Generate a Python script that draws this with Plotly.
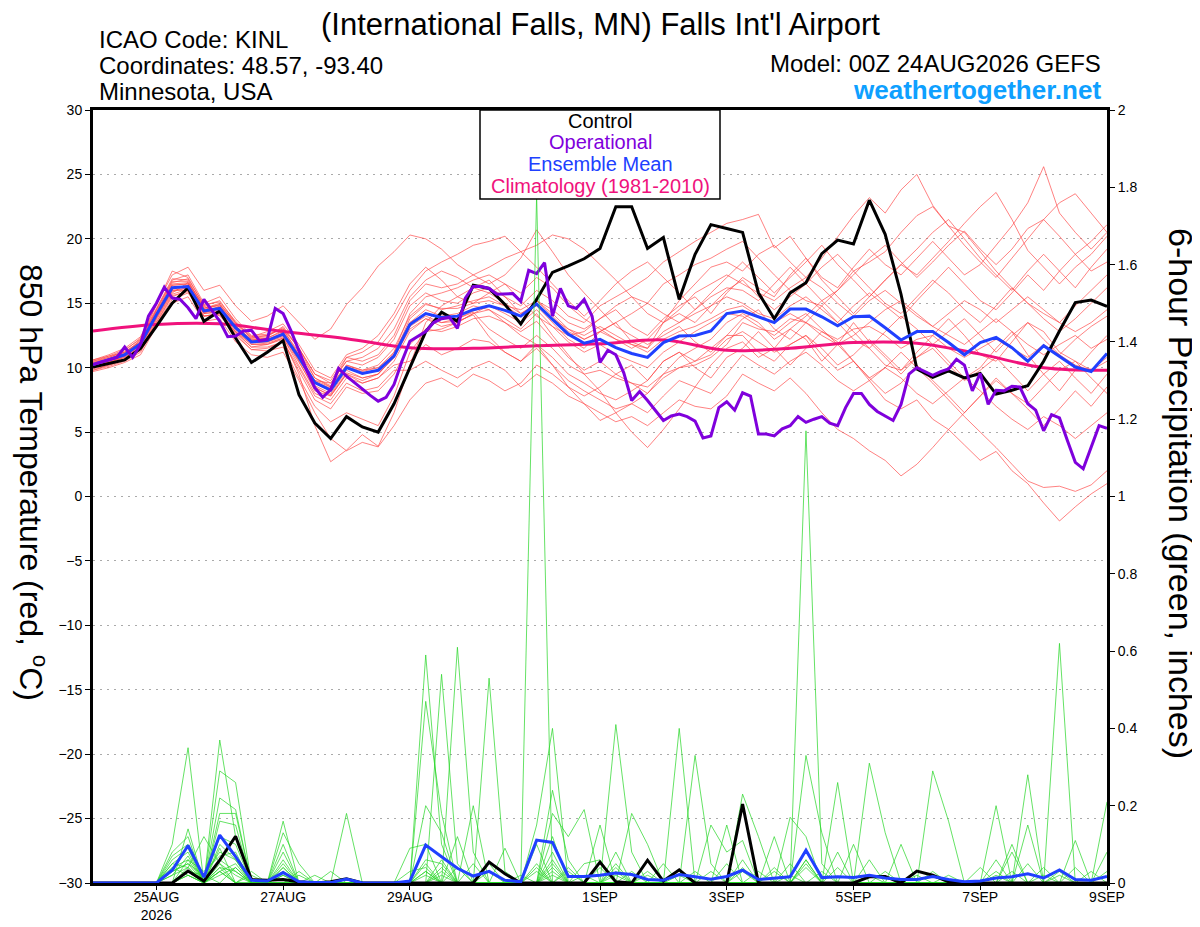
import plotly.graph_objects as go
import pandas as pd

FONT = "Liberation Sans, Arial, Helvetica, sans-serif"

# ---------------- time axes ----------------
start = pd.Timestamp("2026-08-24 00:00")
times6 = pd.date_range(start, periods=65, freq="6h")
times3 = pd.date_range(start, periods=129, freq="3h")
days = pd.date_range(start, periods=17, freq="D")

tick_dates = ["2026-08-25", "2026-08-27", "2026-08-29", "2026-09-01",
              "2026-09-03", "2026-09-05", "2026-09-07", "2026-09-09"]
tick_labels = ["25AUG<br>2026", "27AUG", "29AUG", "1SEP", "3SEP", "5SEP", "7SEP", "9SEP"]

# ---------------- main lines (850 hPa temperature, C) ----------------
control_temp = [10.05, 10.3, 10.6, 11.5, 13.2, 15.0, 16.2, 13.6, 14.4, 12.3, 10.4, 11.2, 12.1,
                7.9, 5.7, 4.5, 6.2, 5.4, 5.0, 7.2, 10.0, 12.8, 14.3, 13.6, 16.4,
                16.15, 14.9, 13.4, 15.3, 17.4, 17.9, 18.45, 19.25, 22.5, 22.5, 19.25, 20.1, 15.3, 18.8, 21.1, 20.8,
                20.5, 15.8, 13.8, 15.8, 16.6, 18.85, 19.9, 19.6, 23.0, 20.35, 15.7, 9.9, 9.25, 9.75, 9.2, 9.55,
                7.95, 8.25, 8.6, 10.5, 12.85, 15.05, 15.25, 14.75]

mean_temp = [10.25, 10.6, 11.0, 11.85, 14.1, 16.2, 16.3, 14.4, 14.6, 13.1, 12.0, 12.1, 12.6,
             10.8, 8.85, 8.25, 10.0, 9.55, 9.8, 10.9, 13.35, 14.2, 13.9, 14.0, 14.5,
             14.8, 14.45, 14.0, 14.95, 13.75, 12.6, 11.9, 12.2, 11.55, 11.1, 10.8, 11.95, 12.45, 12.5, 12.85, 14.2,
             14.4, 13.95, 13.5, 14.55, 14.55, 13.95, 13.25, 13.95, 14.0, 13.1, 12.15, 12.8, 12.8, 11.95, 11.0, 11.95,
             12.35, 11.55, 10.5, 11.7, 10.9, 10.05, 9.7, 11.1]

# operational run (3-hourly)
oper_temp = [10.25, 10.45, 10.65, 10.8, 11.6, 10.8, 11.8, 14.0, 15.0, 16.25, 15.4, 15.3, 14.65, 13.8, 15.3, 14.4,
             13.6, 12.4, 12.45, 12.85, 12.9, 12.1, 12.2, 14.6, 14.2, 12.85, 11.3, 9.75, 8.45, 7.7, 8.3, 9.95,
             9.35, 8.85, 8.3, 7.85, 7.4, 7.7, 8.7, 10.5, 12.05, 12.45, 12.8, 13.5, 13.8, 13.9, 13.05, 15.4,
             16.3, 16.3, 16.15, 15.7, 15.7, 15.75, 15.15, 17.55, 17.3, 18.15, 14.0, 16.15, 14.8, 14.6, 15.3, 14.0,
             10.4, 11.35, 11.0, 9.6, 7.45, 8.15, 7.45, 6.7, 5.9, 6.25, 6.4, 6.2, 5.85, 4.55, 4.7, 6.9,
             7.35, 6.7, 8.05, 7.8, 4.85, 4.85, 4.7, 5.25, 5.5, 6.2, 5.75, 6.0, 6.2, 5.7, 5.5, 6.9,
             8.0, 8.0, 7.15, 6.6, 6.25, 5.9, 7.15, 9.5, 10.0, 9.7, 9.4, 9.7, 9.9, 10.65, 10.2, 8.2,
             9.55, 7.15, 8.25, 8.2, 8.55, 8.5, 7.2, 6.7, 5.1, 6.35, 6.1, 4.35, 2.65, 2.15, 3.75, 5.5,
             5.3]

# climatology (1981-2010), daily values
clim_temp = [12.85, 13.35, 13.4, 12.8, 12.25, 11.55, 11.5, 11.7, 11.85, 12.15, 11.35, 11.5, 11.95, 11.9,
             11.05, 10.0, 9.8]

# ---------------- ensemble members temperature ----------------
t01 = [10.5, 10.9, 11.2, 12.0, 14.5, 16.8, 17.2, 15.0, 15.5, 13.8, 12.5, 12.6, 13.0,
       11.5, 9.5, 8.8, 10.5, 10.8, 11.5, 13.0, 15.5, 16.8, 17.5, 17.0, 16.2,
       15.8, 15.0, 14.2, 14.8, 13.5, 12.2, 11.5, 12.8, 13.5, 14.2, 15.0, 16.5, 17.2, 18.0, 18.5, 19.2,
       19.8, 18.5, 17.2, 16.0, 15.2, 14.8, 16.0, 17.5, 18.2, 19.0, 20.5, 21.8, 22.5, 21.0, 19.5, 18.2,
       17.0, 18.5, 20.0, 21.5, 22.8, 23.5, 22.0, 20.5]
t02 = [9.8, 10.2, 10.6, 11.5, 13.6, 15.6, 15.9, 14.0, 14.2, 12.6, 11.4, 11.5, 12.0,
       9.8, 7.5, 6.8, 8.5, 8.0, 8.2, 9.5, 11.8, 13.0, 12.8, 13.2, 13.8,
       14.0, 13.5, 12.8, 13.6, 12.2, 10.8, 9.8, 10.5, 9.5, 8.8, 8.0, 9.2, 10.0, 10.5, 11.0, 12.2,
       12.8, 12.0, 11.2, 11.8, 12.5, 11.0, 9.8, 10.5, 9.0, 7.5, 6.8, 7.5, 6.0, 5.2, 4.0, 2.8,
       3.5, 2.0, 1.0, -0.5, -1.9, -0.8, 0.2, 1.0]
t03 = [10.0, 10.5, 11.0, 12.2, 14.8, 17.5, 17.0, 14.8, 15.2, 13.5, 12.4, 12.8, 13.4,
       11.8, 9.8, 9.2, 11.0, 11.5, 12.5, 14.2, 16.5, 17.8, 16.8, 15.5, 15.0,
       15.8, 16.5, 15.2, 14.0, 13.2, 12.5, 12.8, 13.8, 14.5, 13.2, 12.5, 13.8, 14.8, 15.5, 14.2, 15.8,
       17.0, 16.2, 15.5, 17.2, 18.5, 17.0, 16.2, 17.8, 19.2, 18.0, 17.2, 18.5, 19.8, 18.5, 17.2, 18.0,
       19.5, 21.0, 22.8, 25.6, 22.0, 20.5, 19.2, 20.5]
t04 = [10.2, 10.4, 10.8, 11.6, 13.8, 15.8, 16.6, 14.8, 14.0, 12.8, 11.6, 11.8, 12.2,
       9.5, 5.5, 2.7, 3.6, 4.8, 3.9, 6.5, 10.2, 13.5, 14.8, 15.5, 16.2,
       16.8, 15.5, 14.2, 15.0, 13.8, 13.0, 12.2, 12.8, 13.5, 12.0, 11.5, 13.5, 15.2, 16.5, 17.8, 18.2,
       17.5, 18.8, 19.5, 18.2, 17.0, 18.5, 20.2, 21.8, 23.2, 22.0, 23.8, 25.0, 22.6, 21.0, 20.5, 19.0,
       17.5, 16.2, 15.0, 14.2, 13.5, 14.8, 16.0, 17.2]
t05 = [10.6, 11.0, 11.5, 12.4, 14.9, 17.2, 17.8, 16.0, 16.4, 14.8, 13.6, 14.0, 14.8,
       13.5, 12.2, 13.0, 14.9, 16.2, 17.9, 19.0, 20.3, 20.0, 19.2, 18.0, 17.2,
       16.5, 17.2, 18.5, 20.7, 19.0, 17.2, 15.8, 14.5, 13.2, 12.5, 11.8, 12.5, 13.2, 12.0, 11.2, 12.5,
       13.8, 14.5, 13.0, 12.2, 13.5, 14.8, 13.5, 12.2, 11.5, 10.2, 9.8, 11.2, 12.5, 13.8, 12.5, 11.0,
       10.5, 12.0, 13.5, 12.8, 11.2, 10.5, 9.8, 10.8]
t06 = [10.0, 10.3, 10.7, 11.3, 13.5, 15.5, 16.0, 14.2, 14.8, 13.2, 12.2, 12.2, 12.5,
       10.5, 8.2, 7.8, 9.5, 8.8, 9.2, 10.5, 12.8, 13.8, 13.2, 13.5, 14.2,
       14.5, 13.8, 13.0, 14.2, 12.5, 11.0, 9.5, 8.2, 6.5, 5.0, 3.8, 5.2, 6.8, 8.5, 10.2, 11.5,
       12.0, 10.8, 11.5, 13.0, 12.2, 10.5, 11.8, 13.5, 12.0, 10.8, 9.5, 10.8, 11.8, 10.5, 9.2, 10.0,
       11.5, 12.8, 11.0, 9.5, 8.2, 9.8, 11.2, 12.5]
t07 = [9.7, 10.0, 10.4, 11.0, 13.2, 15.0, 15.5, 13.6, 13.8, 12.0, 11.0, 10.8, 11.2,
       9.0, 6.5, 4.5, 3.55, 4.2, 3.85, 5.5, 7.5, 8.8, 9.2, 8.5, 9.5,
       9.0, 8.2, 8.8, 10.2, 9.5, 8.5, 7.8, 8.5, 9.5, 10.2, 9.0, 10.5, 11.2, 10.0, 9.2, 10.8,
       11.5, 12.8, 11.5, 10.2, 11.5, 12.8, 12.0, 10.5, 9.2, 8.0, 8.8, 10.2, 9.0, 7.8, 6.5, 7.8,
       9.2, 8.0, 6.8, 5.5, 6.8, 8.2, 7.0, 8.5]
t08 = [10.4, 10.8, 11.3, 12.3, 14.6, 16.9, 16.8, 14.6, 15.0, 13.4, 12.3, 12.4, 13.2,
       11.5, 9.2, 8.5, 10.8, 11.2, 12.0, 13.8, 16.0, 17.5, 18.2, 18.8, 19.5,
       19.8, 20.2, 19.0, 17.8, 16.5, 15.2, 14.0, 15.2, 16.5, 17.5, 18.2, 17.0, 15.8, 14.5, 15.8, 17.0,
       18.2, 17.0, 15.8, 17.0, 18.2, 19.5, 18.0, 16.8, 15.5, 16.8, 18.0, 19.2, 20.5, 21.5, 20.0, 18.5,
       17.2, 16.0, 17.5, 18.8, 17.5, 16.2, 17.8, 19.2]
t09 = [10.1, 10.5, 10.9, 11.7, 13.9, 16.0, 16.2, 14.2, 14.4, 12.9, 11.8, 11.9, 12.3,
       10.2, 8.0, 7.5, 9.2, 8.8, 9.2, 10.2, 10.5, 11.8, 11.0, 11.5, 12.2,
       12.0, 11.2, 10.5, 11.8, 10.8, 9.5, 8.8, 8.0, 7.5, 8.2, 9.0, 10.5, 11.2, 10.5, 11.5, 12.5,
       12.5, 11.2, 10.5, 11.8, 12.5, 11.5, 10.2, 11.0, 12.2, 11.0, 9.8, 10.8, 11.5, 10.2, 9.0, 9.8,
       10.8, 9.5, 8.2, 9.5, 10.5, 9.2, 8.0, 9.5]
t10 = [10.3, 10.7, 11.1, 11.9, 14.2, 16.4, 16.5, 14.5, 14.9, 13.3, 12.1, 12.3, 12.8,
       11.0, 9.0, 8.8, 10.5, 10.2, 10.8, 12.2, 14.8, 15.8, 15.2, 15.0, 15.8,
       16.2, 15.5, 14.8, 16.0, 15.2, 14.0, 13.5, 14.8, 15.5, 16.2, 17.0, 18.2, 19.0, 19.8, 20.5, 21.2,
       21.5, 21.9, 19.3, 20.2, 18.5, 16.8, 15.5, 14.2, 15.5, 16.8, 18.0, 17.2, 18.5, 19.8, 21.2, 22.5,
       23.6, 21.5, 19.1, 17.8, 16.5, 17.8, 18.8, 20.2]
t11 = [10.2, 10.6, 11.0, 11.8, 14.0, 16.0, 16.0, 14.0, 14.2, 12.7, 11.6, 11.6, 12.0,
       10.0, 7.8, 7.2, 8.8, 8.2, 8.5, 9.8, 9.8, 10.5, 9.8, 9.2, 10.0,
       10.5, 9.8, 8.5, 9.5, 8.8, 7.8, 7.2, 6.5, 5.8, 6.2, 5.5, 6.5, 7.5, 7.0, 6.8, 7.8,
       9.5, 8.8, 8.2, 9.2, 8.0, 6.5, 5.2, 4.5, 3.55, 2.8, 1.6, 2.5, 3.8, 5.2, 6.5, 7.8,
       9.0, 8.0, 7.2, 8.5, 9.8, 10.5, 9.2, 8.0]
t12 = [9.9, 10.2, 10.6, 11.4, 13.7, 15.7, 16.1, 14.3, 14.5, 13.0, 12.0, 12.0, 12.4,
       10.6, 8.6, 8.0, 9.8, 9.2, 9.5, 10.8, 13.2, 14.0, 13.5, 13.8, 14.4,
       14.8, 14.2, 13.5, 14.5, 13.2, 12.0, 11.2, 11.8, 11.0, 10.5, 10.0, 11.2, 12.0, 12.8, 13.5, 14.2,
       14.0, 13.2, 12.5, 13.5, 14.2, 13.0, 11.8, 10.5, 9.2, 10.0, 11.2, 10.0, 8.8, 7.5, 6.2, 5.0,
       3.8, 2.5, 1.2, 0.7, 0.8, 0.4, 0.9, 2.0]
t13 = [10.5, 10.8, 11.2, 12.1, 14.4, 16.5, 16.6, 14.7, 14.8, 13.2, 12.2, 12.3, 12.9,
       11.2, 9.2, 8.6, 10.2, 9.8, 10.2, 11.5, 14.0, 15.0, 14.5, 14.8, 15.2,
       15.5, 14.8, 14.5, 15.2, 14.0, 12.8, 12.2, 12.8, 12.2, 11.8, 11.5, 12.8, 13.5, 14.2, 14.8, 15.5,
       15.0, 14.2, 13.8, 14.8, 15.5, 14.5, 13.5, 14.8, 15.8, 14.8, 13.8, 15.2, 16.5, 17.8, 16.5, 15.2,
       14.5, 15.8, 17.2, 16.0, 17.5, 18.8, 19.8, 21.1]
t14 = [10.0, 10.4, 10.9, 11.7, 14.0, 16.1, 16.4, 14.4, 14.6, 13.0, 11.9, 12.0, 12.5,
       10.6, 8.8, 8.2, 10.0, 9.5, 9.8, 11.0, 13.5, 14.5, 14.0, 14.2, 14.8,
       14.5, 13.5, 12.5, 11.8, 10.2, 8.5, 7.2, 5.9, 6.5, 7.2, 8.0, 9.5, 10.8, 11.5, 12.2, 13.5,
       14.2, 13.5, 12.2, 13.0, 14.0, 15.2, 14.0, 12.8, 11.5, 12.8, 14.0, 13.0, 11.8, 12.8, 13.8, 12.5,
       11.2, 12.5, 13.5, 12.2, 11.0, 12.2, 13.2, 14.0]
t15 = [10.3, 10.6, 11.1, 11.9, 14.3, 16.6, 16.9, 14.9, 15.1, 13.6, 12.4, 12.5, 13.0,
       11.0, 8.5, 7.8, 9.5, 9.0, 9.5, 11.2, 14.2, 15.5, 15.8, 16.2, 16.8,
       17.2, 16.5, 15.8, 17.0, 16.2, 14.8, 13.8, 13.0, 12.2, 11.5, 12.2, 13.5, 14.2, 13.5, 14.8, 16.0,
       16.8, 15.5, 14.5, 15.5, 16.5, 17.8, 18.8, 17.5, 16.2, 15.0, 14.2, 15.5, 16.8, 15.8, 14.5, 13.5,
       14.8, 16.2, 15.0, 13.8, 12.8, 13.8, 15.0, 16.2]
t16 = [10.2, 10.5, 10.9, 11.8, 14.1, 16.2, 16.3, 14.3, 14.6, 13.0, 12.0, 12.1, 12.6,
       10.8, 9.0, 8.5, 10.2, 9.8, 10.0, 11.2, 13.5, 14.2, 13.8, 13.8, 14.3,
       13.0, 12.2, 11.5, 12.5, 11.5, 10.2, 9.5, 9.8, 9.2, 8.8, 8.5, 9.5, 10.0, 10.2, 10.8, 11.8,
       13.5, 13.0, 12.8, 13.8, 13.5, 12.8, 12.2, 13.0, 13.2, 12.5, 11.5, 12.2, 12.5, 11.5, 10.8, 11.5,
       12.2, 11.5, 10.8, 11.8, 11.0, 10.2, 9.8, 10.5]
t17 = [10.4, 10.7, 11.2, 12.0, 14.2, 16.4, 16.5, 14.5, 14.7, 13.2, 12.1, 12.2, 12.7,
       10.9, 8.9, 8.4, 10.1, 9.7, 10.0, 11.0, 13.8, 14.9, 14.6, 14.6, 15.0,
       15.2, 14.8, 14.0, 15.2, 14.5, 13.5, 13.0, 13.8, 14.8, 15.5, 15.0, 14.2, 13.5, 14.5, 15.5, 16.2,
       16.0, 15.2, 16.5, 17.8, 16.5, 15.2, 16.0, 17.2, 18.5, 19.5, 18.2, 17.0, 18.2, 19.5, 20.6, 19.2,
       18.0, 19.2, 20.8, 21.5, 20.2, 18.8, 17.5, 18.2]
t18 = [10.0, 10.4, 10.8, 11.6, 13.9, 15.9, 16.2, 14.2, 14.3, 12.8, 11.8, 11.8, 12.3,
       10.4, 8.4, 7.9, 9.6, 9.2, 9.5, 10.8, 13.0, 13.8, 13.5, 13.6, 14.1,
       12.4, 11.2, 10.5, 11.5, 10.2, 9.0, 8.2, 7.5, 6.8, 7.2, 6.5, 7.8, 9.0, 8.5, 8.0, 9.5,
       11.0, 10.2, 9.5, 10.5, 11.2, 10.2, 9.0, 8.2, 9.0, 10.0, 9.2, 8.0, 7.2, 8.2, 9.2, 8.2,
       7.0, 6.0, 5.2, 6.2, 5.5, 4.5, 5.5, 6.5]
t19 = [10.6, 10.9, 11.4, 12.2, 14.5, 16.7, 16.7, 14.6, 14.9, 13.5, 12.3, 12.5, 13.1,
       11.5, 9.5, 9.0, 10.8, 10.5, 11.0, 12.5, 15.2, 16.5, 16.2, 16.5, 17.2,
       17.8, 18.5, 19.0, 19.5, 20.3, 20.0, 19.2, 18.0, 16.8, 15.5, 14.2, 13.5, 14.5, 15.8, 16.5, 17.2,
       16.5, 15.8, 15.2, 16.2, 17.0, 16.2, 15.0, 14.0, 15.2, 16.0, 15.0, 14.0, 13.2, 14.2, 15.2, 14.5,
       13.5, 14.5, 15.5, 14.5, 13.5, 12.8, 13.5, 14.5]
t20 = [9.8, 10.1, 10.5, 11.2, 13.4, 15.3, 15.8, 14.0, 14.1, 12.5, 11.4, 11.3, 11.6,
       9.2, 7.0, 5.8, 6.5, 6.0, 5.5, 7.8, 11.2, 12.8, 13.0, 13.5, 14.2,
       14.8, 14.5, 14.0, 15.2, 14.2, 13.0, 12.5, 13.2, 12.5, 11.8, 11.2, 12.2, 12.8, 13.2, 13.8, 14.5,
       14.8, 14.0, 13.5, 14.2, 13.5, 12.5, 11.8, 12.5, 13.5, 14.5, 15.2, 14.2, 13.2, 12.5, 11.8, 12.8,
       13.8, 12.8, 11.8, 11.0, 11.8, 12.5, 11.5, 12.2]
member_temps = [t01, t02, t03, t04, t05, t06, t07, t08, t09, t10,
                t11, t12, t13, t14, t15, t16, t17, t18, t19, t20]

# ---------------- 6-hour precipitation (inches) ----------------
control_precip = [0, 0, 0, 0, 0, 0, 0.031, 0.005, 0.059, 0.121, 0.009, 0.007, 0.009, 0.003, 0, 0.003,
                  0.011, 0, 0, 0, 0, 0, 0, 0, 0, 0.054, 0.024, 0, 0, 0, 0, 0,
                  0.054, 0.003, 0, 0.059, 0.005, 0.034, 0, 0, 0, 0.204, 0, 0, 0, 0, 0, 0,
                  0, 0.016, 0.017, 0, 0.031, 0.02, 0.003, 0, 0, 0, 0, 0, 0, 0, 0, 0, 0]
mean_precip = [0, 0, 0, 0, 0, 0.033, 0.097, 0.015, 0.124, 0.068, 0.007, 0.005, 0.027, 0.003, 0.001, 0.001,
               0.01, 0, 0, 0, 0.005, 0.098, 0.068, 0.038, 0.018, 0.03, 0.007, 0.003, 0.111, 0.105, 0.017, 0.017,
               0.02, 0.026, 0.022, 0.009, 0.007, 0.022, 0.016, 0.01, 0.017, 0.033, 0.009, 0.013, 0.016, 0.085, 0.014, 0.016,
               0.014, 0.02, 0.013, 0.009, 0.009, 0.017, 0.009, 0.003, 0.005, 0.013, 0.016, 0.024, 0.013, 0.034, 0.009, 0.007,
               0.017]

# members: {6-hour step index: amount}, all other steps are 0
p01 = {5: 0.10, 6: 0.35, 8: 0.10, 9: 0.06, 21: 0.59, 22: 0.10, 28: 0.15, 29: 0.40, 33: 0.05, 45: 0.06, 61: 0.62}
p02 = {6: 0.14, 8: 0.37, 9: 0.12, 12: 0.04, 22: 0.54, 23: 0.05, 29: 0.08, 33: 0.41, 34: 0.08, 47: 0.26, 59: 0.15}
p03 = {5: 0.08, 6: 0.12, 8: 0.29, 9: 0.26, 12: 0.16, 23: 0.61, 24: 0.08, 28: 1.78, 38: 0.33, 39: 0.05, 57: 0.20}
p04 = {5: 0.07, 6: 0.10, 8: 0.22, 9: 0.19, 12: 0.13, 13: 0.05, 21: 0.47, 22: 0.18, 29: 0.24, 30: 0.06,
       45: 1.17, 46: 0.05, 64: 0.21}
p05 = {5: 0.06, 6: 0.09, 8: 0.18, 9: 0.18, 12: 0.10, 16: 0.18, 25: 0.53, 26: 0.03, 37: 0.40, 49: 0.31, 50: 0.13}
p06 = {5: 0.05, 6: 0.08, 8: 0.16, 9: 0.15, 12: 0.08, 21: 0.20, 22: 0.13, 29: 0.18, 30: 0.12, 31: 0.19,
       45: 0.33, 46: 0.13, 53: 0.29, 54: 0.16}
p07 = {5: 0.04, 6: 0.06, 8: 0.12, 9: 0.10, 12: 0.06, 20: 0.09, 21: 0.10, 24: 0.20, 29: 0.12, 41: 0.23,
       42: 0.12, 59: 0.28}
p08 = {5: 0.03, 6: 0.05, 7: 0.02, 8: 0.08, 9: 0.06, 13: 0.03, 21: 0.06, 22: 0.05, 28: 0.10, 32: 0.15,
       40: 0.15, 44: 0.17, 45: 0.12, 58: 0.10}
p09 = {6: 0.04, 7: 0.12, 8: 0.05, 10: 0.03, 15: 0.03, 23: 0.12, 29: 0.05, 34: 0.18, 35: 0.10, 43: 0.12,
       47: 0.08, 62: 0.11}
p10 = {6: 0.03, 7: 0.02, 9: 0.04, 12: 0.02, 20: 0.03, 21: 0.04, 26: 0.09, 33: 0.08, 39: 0.15, 40: 0.08,
       41: 0.11, 57: 0.06, 61: 0.03}
p11 = {5: 0.02, 6: 0.07, 8: 0.04, 10: 0.02, 14: 0.02, 25: 0.05, 31: 0.05, 32: 0.06, 36: 0.05, 41: 0.06,
       48: 0.10, 64: 0.08}
p12 = {6: 0.02, 8: 0.06, 9: 0.03, 12: 0.03, 22: 0.03, 27: 0.02, 30: 0.03, 35: 0.03, 42: 0.03, 44: 0.05,
       51: 0.10, 58: 0.08}
p13 = {5: 0.03, 6: 0.05, 8: 0.09, 13: 0.02, 21: 0.03, 25: 0.03, 29: 0.06, 37: 0.02, 43: 0.04, 49: 0.06,
       53: 0.03, 60: 0.04}
p14 = {6: 0.06, 7: 0.03, 8: 0.07, 9: 0.08, 12: 0.05, 23: 0.04, 28: 0.04, 33: 0.03, 45: 0.06, 52: 0.02,
       56: 0.04, 63: 0.03}
p15 = {5: 0.05, 6: 0.04, 8: 0.03, 9: 0.05, 22: 0.04, 29: 0.03, 32: 0.04, 40: 0.05, 46: 0.03, 57: 0.03, 60: 0.02}
p16 = {6: 0.03, 8: 0.05, 9: 0.02, 12: 0.04, 21: 0.02, 24: 0.05, 30: 0.04, 34: 0.03, 41: 0.03, 47: 0.04, 59: 0.05}
p17 = {5: 0.04, 6: 0.02, 8: 0.03, 12: 0.02, 22: 0.02, 28: 0.03, 33: 0.04, 39: 0.03, 44: 0.02, 50: 0.03, 62: 0.04}
p18 = {6: 0.03, 8: 0.04, 9: 0.03, 21: 0.05, 29: 0.04, 31: 0.02, 38: 0.03, 45: 0.04, 54: 0.02, 64: 0.03}
p19 = {5: 0.02, 6: 0.04, 8: 0.02, 9: 0.04, 22: 0.06, 28: 0.05, 35: 0.02, 43: 0.03, 49: 0.02, 58: 0.03}
p20 = {6: 0.02, 8: 0.03, 12: 0.03, 21: 0.03, 29: 0.02, 33: 0.02, 41: 0.04, 45: 0.05, 57: 0.02, 61: 0.02}
member_precips = [p01, p02, p03, p04, p05, p06, p07, p08, p09, p10,
                  p11, p12, p13, p14, p15, p16, p17, p18, p19, p20]

# ---------------- colours ----------------
RED = "rgba(255,70,70,0.85)"
GREEN = "rgba(40,215,40,0.9)"
BLACK = "#000000"
PURPLE = "#7f00dc"
BLUE = "#2040ff"
PINK = "#f0127c"
WEB = "#0ea0ff"

fig = go.Figure()

for m in member_temps:
    fig.add_trace(go.Scatter(x=times6, y=m, mode="lines", line=dict(color=RED, width=0.8),
                             hoverinfo="skip", showlegend=False))

for p in member_precips:
    vals = [p.get(i, 0.0) for i in range(len(times6))]
    fig.add_trace(go.Scatter(x=times6, y=vals, mode="lines", line=dict(color=GREEN, width=0.8),
                             yaxis="y2", hoverinfo="skip", showlegend=False))

fig.add_trace(go.Scatter(x=days, y=clim_temp, mode="lines", line=dict(color=PINK, width=3, shape="spline"),
                         name="Climatology (1981-2010)", showlegend=False))
fig.add_trace(go.Scatter(x=times6, y=control_precip, mode="lines", line=dict(color=BLACK, width=3),
                         yaxis="y2", showlegend=False))
fig.add_trace(go.Scatter(x=times6, y=mean_precip, mode="lines", line=dict(color=BLUE, width=3),
                         yaxis="y2", showlegend=False))
fig.add_trace(go.Scatter(x=times6, y=control_temp, mode="lines", line=dict(color=BLACK, width=3),
                         name="Control", showlegend=False))
fig.add_trace(go.Scatter(x=times6, y=mean_temp, mode="lines", line=dict(color=BLUE, width=3),
                         name="Ensemble Mean", showlegend=False))
fig.add_trace(go.Scatter(x=times3, y=oper_temp, mode="lines", line=dict(color=PURPLE, width=3),
                         name="Operational", showlegend=False))

# page body has an 8px margin: figure sized so the plot area lands at x 93-1107, y 110-883
OFF = 8
W, H = 1200 - OFF, 927 - OFF
L, T, B = 85, 102, 44
PW, PH = 1014, 773
R = W - L - PW
PLOT_LEFT, PLOT_BOTTOM = OFF + L, OFF + T + PH


def ax(px):
    return (px - PLOT_LEFT) / PW


def ay(py):
    return (PLOT_BOTTOM - py) / PH


annotations = [
    dict(text="(International Falls, MN) Falls Int'l Airport", x=ax(600), y=ay(24),
         xanchor="center", yanchor="middle", font=dict(size=31, color="black")),
    dict(text="ICAO Code: KINL", x=ax(97), y=ay(40), xanchor="left", yanchor="middle",
         font=dict(size=24, color="black")),
    dict(text="Coordinates: 48.57, -93.40", x=ax(97), y=ay(66), xanchor="left", yanchor="middle",
         font=dict(size=24, color="black")),
    dict(text="Minnesota, USA", x=ax(97), y=ay(92), xanchor="left", yanchor="middle",
         font=dict(size=24, color="black")),
    dict(text="Model: 00Z 24AUG2026 GEFS", x=ax(1103), y=ay(63), xanchor="right", yanchor="middle",
         font=dict(size=24, color="black")),
    dict(text="<b>weathertogether.net</b>", x=ax(1103), y=ay(90), xanchor="right", yanchor="middle",
         font=dict(size=26, color=WEB)),
    dict(text="850 hPa Temperature (red, <sup>o</sup>C)", x=ax(33), y=ay(482), textangle=90,
         xanchor="center", yanchor="middle", font=dict(size=32, color="black")),
    dict(text="6-hour Precipitation (green, inches)", x=ax(1181), y=ay(493), textangle=90,
         xanchor="center", yanchor="middle", font=dict(size=34, color="black")),
    dict(text="Control", x=ax(600), y=ay(121), xanchor="center", yanchor="middle",
         font=dict(size=20, color=BLACK)),
    dict(text="Operational", x=ax(600), y=ay(142), xanchor="center", yanchor="middle",
         font=dict(size=20, color=PURPLE)),
    dict(text="Ensemble Mean", x=ax(600), y=ay(164), xanchor="center", yanchor="middle",
         font=dict(size=20, color=BLUE)),
    dict(text="Climatology (1981-2010)", x=ax(600), y=ay(186), xanchor="center", yanchor="middle",
         font=dict(size=20, color=PINK)),
]
for a in annotations:
    a.update(xref="paper", yref="paper", showarrow=False)

shapes = [dict(type="rect", xref="paper", yref="paper", x0=ax(480), x1=ax(720), y0=ay(199), y1=ay(110),
               fillcolor="white", line=dict(color="black", width=1.5), layer="above")]

fig.update_layout(
    width=W, height=H,
    margin=dict(l=L, r=R, t=T, b=B, pad=0),
    paper_bgcolor="white", plot_bgcolor="white",
    font=dict(family=FONT, color="black"),
    showlegend=False,
    annotations=annotations,
    shapes=shapes,
    xaxis=dict(type="date", range=[times6[0], times6[-1]], tickmode="array",
               tickvals=tick_dates, ticktext=tick_labels, showgrid=False, zeroline=False,
               showline=True, linecolor="black", linewidth=3, mirror=True,
               ticks="outside", ticklen=4, tickwidth=1, tickcolor="black",
               ticklabelstandoff=-5,
               tickfont=dict(size=14), automargin=False),
    yaxis=dict(range=[-30, 30], dtick=5, tick0=0, showgrid=True, gridcolor="#aaaaaa",
               griddash="2px,5px", gridwidth=1, zeroline=False,
               showline=True, linecolor="black", linewidth=3, mirror=True,
               ticks="outside", ticklen=5, tickwidth=1, tickcolor="black",
               tickfont=dict(size=14), automargin=False),
    yaxis2=dict(range=[0, 2], dtick=0.2, tick0=0, overlaying="y", side="right",
                showgrid=False, zeroline=False, showline=True, linecolor="black", linewidth=3,
                ticks="outside", ticklen=5, tickwidth=1, tickcolor="black",
                tickfont=dict(size=14), automargin=False),
)

fig.write_html("out.html")
